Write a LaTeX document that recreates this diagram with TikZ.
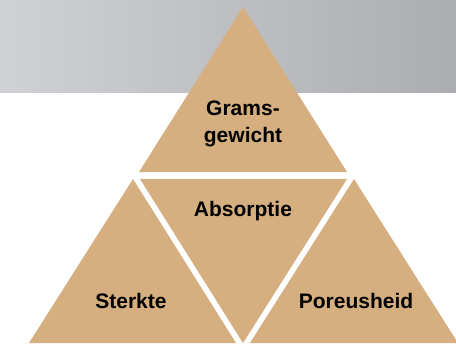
\documentclass[tikz,border=0pt]{standalone}
\usepackage{fontspec}
\setmainfont{Liberation Sans}
\begin{document}
\begin{tikzpicture}[x=1pt,y=-1pt,
  tri/.style={fill=tan},
  lbl/.style={font=\bfseries\fontsize{21}{27}\selectfont,align=center,text=black,inner sep=0pt}]
\definecolor{tan}{RGB}{213,175,128}
\definecolor{grayL}{RGB}{208,209,213}
\definecolor{grayR}{RGB}{172,173,177}
\useasboundingbox (0,0) rectangle (456,346);
\fill[white] (0,0) rectangle (456,346);
\shade[left color=grayL,right color=grayR] (0,0) rectangle (456,92);
% triangles
\fill[tri] (243,7) -- (139,172) -- (347,172) -- cycle;
\fill[tri] (140,179) -- (347,179) -- (243,343) -- cycle;
\fill[tri] (133,179) -- (29,343) -- (236,343) -- cycle;
\fill[tri] (354,179) -- (250,343) -- (458,343) -- cycle;
% labels
\node[lbl] (grams) at (243,124) {Grams-\\gewicht};
\node[lbl] (absorptie) at (243,211) {Absorptie};
\node[lbl] (sterkte) at (131,301) {Sterkte};
\node[lbl] (poreusheid) at (356,301) {Poreusheid};
\end{tikzpicture}
\end{document}
